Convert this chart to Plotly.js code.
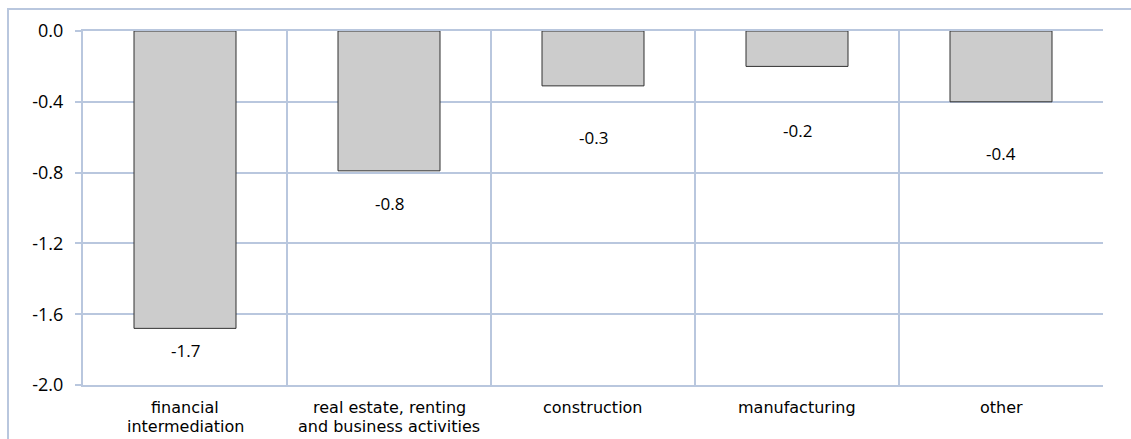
<!DOCTYPE html>
<html>
<head>
<meta charset="utf-8">
<script src="https://cdn.plot.ly/plotly-3.0.1.min.js"></script>
<style>
  html, body { margin: 0; padding: 0; background: #fff; }
  #wrap { position: relative; width: 1131px; height: 439px; overflow: hidden; }
  #chart { width: 1131px; height: 439px; }
  #frame { position: absolute; left: 7px; top: 8px; width: 1200px; height: 500px;
           border-left: 2px solid #b9c7de; border-top: 2px solid #b9c7de; pointer-events: none; }
</style>
</head>
<body>
<div id="wrap">
  <div id="chart"></div>
  <div id="frame"></div>
</div>
<script>
// ---- data ----
const categories = [
  "financial intermediation",
  "real estate, renting and business activities",
  "construction",
  "manufacturing",
  "other"
];
const categoryLines = [
  ["financial", "intermediation"],
  ["real estate, renting", "and business activities"],
  ["construction"],
  ["manufacturing"],
  ["other"]
];
const values = [-1.68, -0.79, -0.31, -0.20, -0.40];
const yTickVals = [0.0, -0.4, -0.8, -1.2, -1.6, -2.0];
const yTickText = ["0.0", "-0.4", "-0.8", "-1.2", "-1.6", "-2.0"];

// ---- style ----
const gridColor = "#b9c7de";
const fontFamily = "Open Sans";
const catFont = "DejaVu Sans";
const labelShiftPx = [22, 33, 52, 64, 52]; // data-label distance below bar end (px), as in the original
const catFirstLineShift = -12;
const catLineGap = 19;

const trace = {
  type: "bar",
  x: categories,
  y: values,
  width: 0.5,
  marker: { color: "#cccccc", line: { color: "#303030", width: 1 } },
  hoverinfo: "skip"
};

const annotations = [];
categories.forEach((c, i) => {
  annotations.push({
    x: c, y: values[i], xref: "x", yref: "y",
    text: values[i].toFixed(1),
    showarrow: false,
    yanchor: "middle",
    yshift: -labelShiftPx[i],
    font: { family: fontFamily, size: 17, color: "#000" }
  });
  categoryLines[i].forEach((line, j) => {
    annotations.push({
      x: c, y: 0, xref: "x", yref: "paper",
      text: line,
      showarrow: false,
      yanchor: "top",
      borderpad: 0,
      yshift: catFirstLineShift - j * catLineGap,
      font: { family: catFont, size: 16, color: "#000" }
    });
  });
});

const layout = {
  width: 1131, height: 439,
  margin: { l: 83, r: 28, t: 31, b: 54, pad: 0 },
  paper_bgcolor: "rgba(0,0,0,0)",
  plot_bgcolor: "#fff",
  showlegend: false,
  font: { family: fontFamily, size: 17, color: "#000" },
  xaxis: {
    type: "category",
    tickson: "boundaries",
    showgrid: true, gridcolor: gridColor, gridwidth: 2,
    showline: true, linecolor: gridColor, linewidth: 2, mirror: true,
    ticks: "", ticklen: 0,
    showticklabels: false,
    zeroline: false,
    fixedrange: true
  },
  yaxis: {
    range: [-2.0, 0.0],
    tickvals: yTickVals, ticktext: yTickText,
    showgrid: true, gridcolor: gridColor, gridwidth: 2,
    showline: true, linecolor: gridColor, linewidth: 2,
    ticks: "outside", ticklen: 6, tickcolor: gridColor, tickwidth: 2,
    ticklabelstandoff: 8,
    zeroline: false,
    fixedrange: true,
    tickfont: { family: fontFamily, size: 18, color: "#000" }
  },
  annotations: annotations
};

Plotly.newPlot("chart", [trace], layout, { displayModeBar: false, staticPlot: true });
</script>
</body>
</html>
